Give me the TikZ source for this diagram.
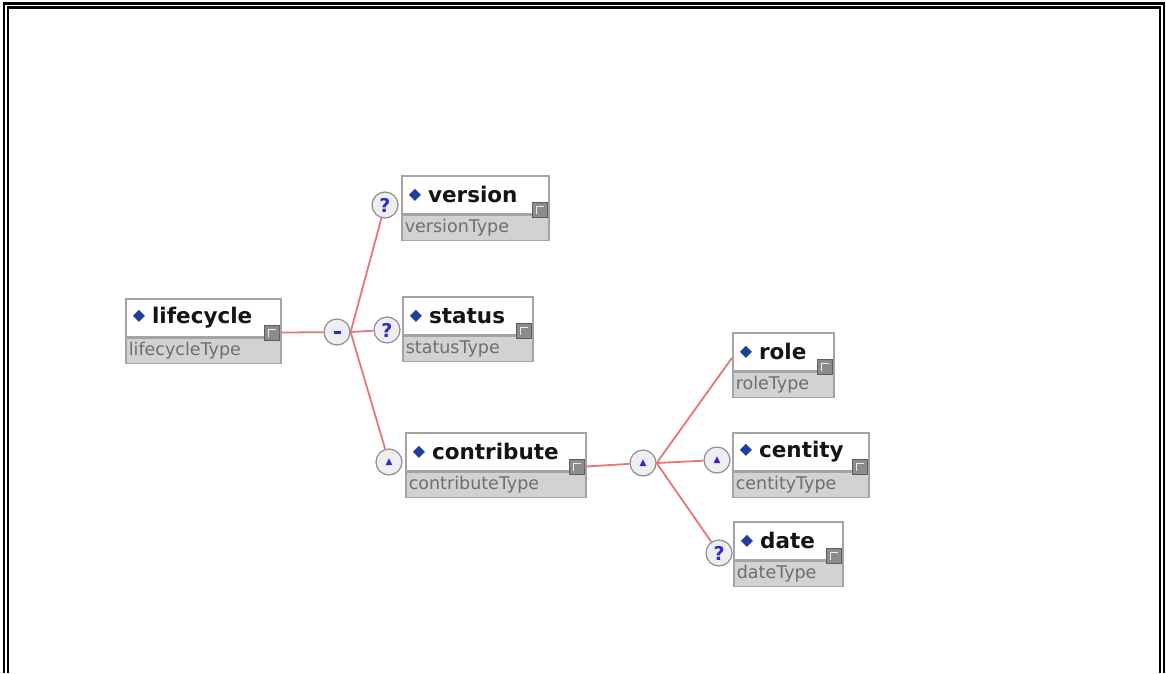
\documentclass[tikz,border=0pt]{standalone}
\usepackage{fontspec}
\setmainfont{DejaVu Sans}
\usepackage{xcolor}
\usetikzlibrary{positioning, calc}
\definecolor{boxline}{HTML}{A4A4A4}
\definecolor{typefill}{HTML}{D2D2D2}
\definecolor{typetext}{HTML}{6E6E6E}
\definecolor{nametext}{HTML}{141414}
\definecolor{diamblue}{HTML}{1F3F9F}
\definecolor{markblue}{HTML}{2A2AD0}
\definecolor{circfill}{HTML}{EEEEF4}
\definecolor{circline}{HTML}{8E8E8E}
\definecolor{taggray}{HTML}{8C8C8C}
\definecolor{tagline}{HTML}{5E5E5E}
\definecolor{linkred}{HTML}{E77575}
\tikzset{
  elhead/.style={rectangle, draw=boxline, line width=1.6pt, fill=white, align=left, text width=#1, inner xsep=3pt, inner ysep=0pt, minimum height=38pt, font=\fontsize{21.5}{21.5}\selectfont\bfseries, text=nametext},
  eltype/.style={rectangle, draw=boxline, line width=1.6pt, fill=typefill, align=left, text width=#1, inner xsep=3pt, inner ysep=0pt, minimum height=25pt, font=\fontsize{17.5}{17.5}\selectfont, text=typetext},
  eltag/.style={rectangle, draw=tagline, line width=1pt, fill=taggray, minimum size=15pt, inner sep=0pt,
    path picture={\draw[white!85!gray, line width=1pt] ([shift={(4pt,3pt)}]path picture bounding box.south west) |- ([shift={(-3pt,-4pt)}]path picture bounding box.north east);}},
  qcirc/.style={circle, draw=circline, line width=1.2pt, fill=circfill, minimum size=26pt, inner sep=0pt, font=\fontsize{19}{19}\selectfont\bfseries, text=markblue},
  seqcirc/.style={circle, draw=circline, line width=1.2pt, fill=circfill, minimum size=26pt, inner sep=0pt, font=\fontsize{9}{9}\selectfont, text=markblue},
  link/.style={draw=linkred, line width=1.8pt},
  frameline/.style={line width=2.2pt, black}
}
% element box: id, x, y, text width, name, type
\newcommand{\xsdelem}[6]{%
  \node[elhead=#4pt, anchor=north west] (#1) at (#2,#3) {\hspace{4pt}{\color{diamblue}\fontsize{16}{16}\selectfont\raisebox{3pt}{◆}}\hspace{7pt}#5};
  \node[eltype=#4pt, anchor=north west] (#1type) at (#1.south west) {#6};
  \node[eltag, anchor=south east] (#1tag) at ([xshift=-2pt,yshift=-3pt]#1.south east) {};
}

\begin{document}
\begin{tikzpicture}[x=1pt, y=-1pt]
\useasboundingbox (0,0) rectangle (1166,673);

% Frame
\draw[frameline] (4,673) -- (4,3.5) -- (1164,3.5) -- (1164,673);
\draw[frameline] (8,673) -- (8,7.5) -- (1160,7.5) -- (1160,673);

% Elements
\xsdelem{life}{125}{298}{149}{lifecycle}{lifecycleType}
\xsdelem{ver}{401}{175}{141}{version}{versionType}
\xsdelem{stat}{402}{296}{124}{status}{statusType}
\xsdelem{contr}{405}{432}{174}{contribute}{contributeType}
\xsdelem{role}{732}{332}{95}{role}{roleType}
\xsdelem{cent}{732}{432}{130}{centity}{centityType}
\xsdelem{date}{733}{521}{103}{date}{dateType}

% Compositors and occurrence marks
\node[seqcirc] (seq1) at (337,332) {\rule{7pt}{3pt}};
\node[qcirc] (qver) at (385,205) {?};
\node[qcirc] (qstat) at (387,330) {?};
\node[seqcirc] (mcontr) at (389,462) {▲};
\node[seqcirc] (seq2) at (643,463) {▲};
\node[seqcirc] (mcent) at (717,460) {▲};
\node[qcirc] (qdate) at (719,553) {?};

% Connectors
\draw[link] (lifetag.east) -- (seq1);
\draw[link] (seq1.east) -- (qver);
\draw[link] (seq1.east) -- (qstat);
\draw[link] (seq1.east) -- (mcontr);
\draw[link] (contrtag.east) -- (seq2);
\draw[link] (seq2.east) -- ([yshift=-6pt]role.west);
\draw[link] (seq2.east) -- (mcent);
\draw[link] (seq2.east) -- (qdate);

\end{tikzpicture}
\end{document}
